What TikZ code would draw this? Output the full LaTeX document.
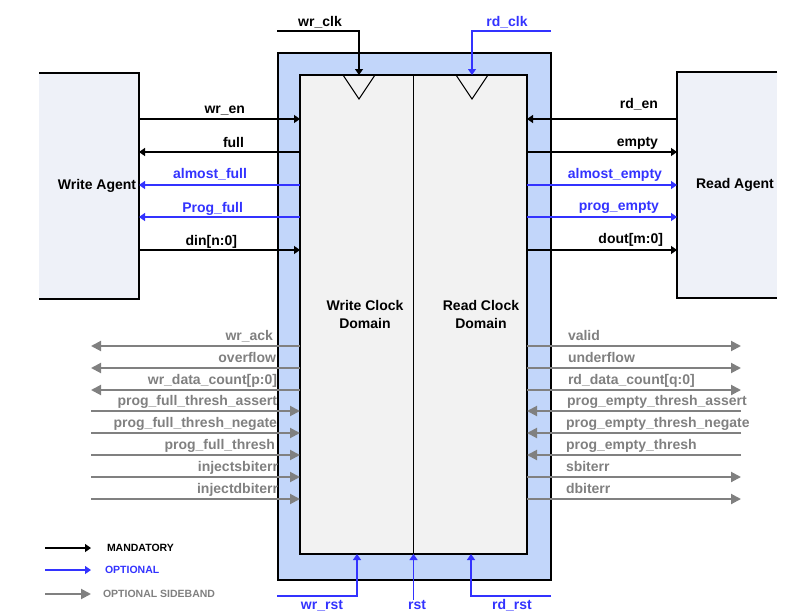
\documentclass[tikz,border=0pt]{standalone}
\usepackage{fontspec}
\setmainfont{Liberation Sans}
\usetikzlibrary{arrows.meta}
\definecolor{optblue}{RGB}{51,51,255}
\definecolor{sidegray}{RGB}{128,128,128}
\definecolor{frameblue}{RGB}{194,214,250}
\definecolor{innergray}{RGB}{242,242,242}
\definecolor{agentfill}{RGB}{238,241,248}
\begin{document}
\begin{tikzpicture}[x=1pt,y=-1pt,
  every node/.style={font=\fontsize{14}{18}\selectfont\bfseries, inner sep=0pt, outer sep=0pt},
  mand/.style={draw=black, line width=1.3pt, -{Triangle[length=6pt,width=8pt]}},
  opt/.style={draw=optblue, line width=1.3pt, -{Triangle[length=6pt,width=8pt]}},
  side/.style={draw=sidegray, line width=2pt, -{Triangle[length=10pt,width=10pt]}},
  lgtext/.style={anchor=west, font=\fontsize{10.5}{12}\selectfont\bfseries},
  lbl/.style={anchor=base east},
  lblr/.style={anchor=base west},
  sidelbl/.style={text=sidegray},
  optlbl/.style={text=optblue},
  agentbox/.style={fill=agentfill, draw=none, minimum width=100pt, minimum height=226pt, anchor=north west},
  clocktri/.style={draw=black, line width=1pt}
]
\useasboundingbox (0,0) rectangle (795,613);

% ---- FIFO frame and core
\node[fill=frameblue, draw=black, line width=1.5pt, minimum width=273pt, minimum height=527pt, anchor=north west] (frame) at (278,53) {};
\node[fill=innergray, draw=black, line width=1.2pt, minimum width=227pt, minimum height=479pt, anchor=north west] (core) at (300,75) {};
\draw[line width=1.2pt] (core.north) -- (core.south);
\node[align=center] (wcd) at (365,314) {Write Clock\\Domain};
\node[align=center] (rcd) at (481,314) {Read Clock\\Domain};

% clock triangles
\draw[clocktri] (343,75) -- (359,99) -- (375,75);
\draw[clocktri] (456,75) -- (472,99) -- (488,75);

% ---- agents
\node[agentbox] (wa) at (39,73) {};
\draw[line width=1.3pt] (wa.north west) -- (wa.north east) -- (wa.south east) -- (wa.south west);
\node (walbl) at (97,186) {Write Agent};
\node[agentbox] (ra) at (677,72) {};
\draw[line width=1.3pt] (ra.north east) -- (ra.north west) -- (ra.south west) -- (ra.south east);
\node (ralbl) at (735,185) {Read Agent};

% ---- coordinates for top signals
\foreach \n/\y in {wren/119, full/152, afull/185, pfull/217, din/250}{
  \coordinate (\n-a) at (wa.east |- 0,\y);
  \coordinate (\n-b) at (core.west |- 0,\y);
}
\foreach \n/\y in {rden/119, empty/152, aempty/185, pempty/217, dout/250}{
  \coordinate (\n-a) at (ra.west |- 0,\y);
  \coordinate (\n-b) at (core.east |- 0,\y);
}
\draw[mand] (wren-a) -- (wren-b);
\draw[mand] (full-b) -- (full-a);
\draw[opt] (afull-b) -- (afull-a);
\draw[opt] (pfull-b) -- (pfull-a);
\draw[mand] (din-a) -- (din-b);
\node[lbl] (l-wren) at (245,113) {wr\_en};
\node[lbl] (l-full) at (244,147) {full};
\node[lbl, optlbl] (l-afull) at (247,178) {almost\_full};
\node[lbl, optlbl] (l-pfull) at (243,212) {Prog\_full};
\node[lbl] (l-din) at (237,245) {din[n:0]};

\draw[mand] (rden-a) -- (rden-b);
\draw[mand] (empty-b) -- (empty-a);
\draw[opt] (aempty-b) -- (aempty-a);
\draw[opt] (pempty-b) -- (pempty-a);
\draw[mand] (dout-b) -- (dout-a);
\node[lbl] (l-rden) at (658,108) {rd\_en};
\node[lbl] (l-empty) at (658,146) {empty};
\node[lbl, optlbl] (l-aempty) at (662,178) {almost\_empty};
\node[lbl, optlbl] (l-pempty) at (659,210) {prog\_empty};
\node[lbl] (l-dout) at (663,243) {dout[m:0]};

% ---- clocks
\coordinate (wclk-s) at (277,31);
\coordinate (wclk-k) at (359,31);
\draw[mand] (wclk-s) -- (wclk-k) -- (wclk-k |- core.north);
\node[anchor=base] (l-wclk) at (320,27) {wr\_clk};
\coordinate (rclk-s) at (551,31);
\coordinate (rclk-k) at (472,31);
\draw[opt] (rclk-s) -- (rclk-k) -- (rclk-k |- core.north);
\node[anchor=base, optlbl] (l-rclk) at (507,27) {rd\_clk};

% ---- resets
\coordinate (wrst-s) at (277,596);
\coordinate (wrst-k) at (357,596);
\draw[opt] (wrst-s) -- (wrst-k) -- (wrst-k |- core.south);
\node[anchor=base, optlbl] (l-wrst) at (322,609) {wr\_rst};
\coordinate (rst-s) at (core.south |- 0,600);
\draw[opt] (rst-s) -- (core.south);
\node[anchor=base, optlbl] (l-rst) at (417,609) {rst};
\coordinate (rrst-s) at (551,596);
\coordinate (rrst-k) at (471,596);
\draw[opt] (rrst-s) -- (rrst-k) -- (rrst-k |- core.south);
\node[anchor=base, optlbl] (l-rrst) at (512,609) {rd\_rst};

% ---- sideband signals, left
\foreach \n/\y in {wack/346, ovf/368, wdc/390, pfta/411, pftn/433, pft/455, isb/477, idb/499}{
  \coordinate (\n-a) at (91,\y);
  \coordinate (\n-b) at (core.west |- 0,\y);
}
\draw[side] (wack-b) -- (wack-a);
\draw[side] (ovf-b) -- (ovf-a);
\draw[side] (wdc-b) -- (wdc-a);
\draw[side] (pfta-a) -- (pfta-b);
\draw[side] (pftn-a) -- (pftn-b);
\draw[side] (pft-a) -- (pft-b);
\draw[side] (isb-a) -- (isb-b);
\draw[side] (idb-a) -- (idb-b);
\node[lbl, sidelbl] (l-wack) at (273,340) {wr\_ack};
\node[lbl, sidelbl] (l-ovf) at (276,362) {overflow};
\node[lbl, sidelbl] (l-wdc) at (277,384) {wr\_data\_count[p:0]};
\node[lbl, sidelbl] (l-pfta) at (277,405) {prog\_full\_thresh\_assert};
\node[lbl, sidelbl] (l-pftn) at (277,427) {prog\_full\_thresh\_negate};
\node[lbl, sidelbl] (l-pft) at (275,449) {prog\_full\_thresh};
\node[lbl, sidelbl] (l-isb) at (278,471) {injectsbiterr};
\node[lbl, sidelbl] (l-idb) at (278,493) {injectdbiterr};

% ---- sideband signals, right
\foreach \n/\y in {valid/346, udf/368, rdc/390, peta/411, petn/433, pet/455, sbe/477, dbe/499}{
  \coordinate (\n-a) at (741,\y);
  \coordinate (\n-b) at (core.east |- 0,\y);
}
\draw[side] (valid-b) -- (valid-a);
\draw[side] (udf-b) -- (udf-a);
\draw[side] (rdc-b) -- (rdc-a);
\draw[side] (peta-a) -- (peta-b);
\draw[side] (petn-a) -- (petn-b);
\draw[side] (pet-a) -- (pet-b);
\draw[side] (sbe-b) -- (sbe-a);
\draw[side] (dbe-b) -- (dbe-a);
\node[lblr, sidelbl] (l-valid) at (568,340) {valid};
\node[lblr, sidelbl] (l-udf) at (568,362) {underflow};
\node[lblr, sidelbl] (l-rdc) at (568,384) {rd\_data\_count[q:0]};
\node[lblr, sidelbl] (l-peta) at (567,405) {prog\_empty\_thresh\_assert};
\node[lblr, sidelbl] (l-petn) at (566,427) {prog\_empty\_thresh\_negate};
\node[lblr, sidelbl] (l-pet) at (566,449) {prog\_empty\_thresh};
\node[lblr, sidelbl] (l-sbe) at (566,471) {sbiterr};
\node[lblr, sidelbl] (l-dbe) at (566,493) {dbiterr};

% ---- legend
\coordinate (lg1-a) at (45,548); \coordinate (lg1-b) at (91,548);
\coordinate (lg2-a) at (45,570); \coordinate (lg2-b) at (91,570);
\coordinate (lg3-a) at (45,594); \coordinate (lg3-b) at (91,594);
\draw[mand] (lg1-a) -- (lg1-b);
\draw[opt] (lg2-a) -- (lg2-b);
\draw[side] (lg3-a) -- (lg3-b);
\node[lgtext] (lgt1) at (107,548) {MANDATORY};
\node[lgtext, optlbl] (lgt2) at (105,570) {OPTIONAL};
\node[lgtext, sidelbl] (lgt3) at (103,594) {OPTIONAL SIDEBAND};
\end{tikzpicture}
\end{document}
